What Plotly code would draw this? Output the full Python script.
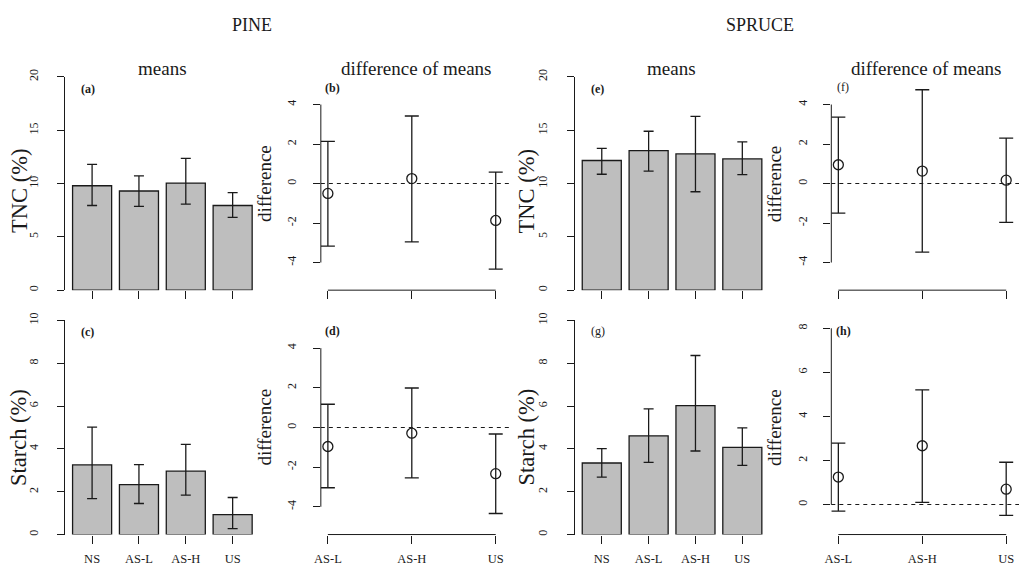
import plotly.graph_objects as go

# ---------------------------------------------------------------- data
categories = ["NS", "AS-L", "AS-H", "US"]
contrasts = ["AS-L", "AS-H", "US"]

# group means with lower / upper interval bounds (%)
pine_tnc_mean = [9.79, 9.30, 10.04, 7.94]
pine_tnc_lo = [7.94, 7.85, 8.07, 6.83]
pine_tnc_hi = [11.79, 10.71, 12.35, 9.14]

pine_starch_mean = [3.25, 2.33, 2.96, 0.93]
pine_starch_lo = [1.68, 1.45, 1.84, 0.28]
pine_starch_hi = [5.02, 3.26, 4.21, 1.73]

spruce_tnc_mean = [12.16, 13.08, 12.78, 12.31]
spruce_tnc_lo = [10.87, 11.17, 9.23, 10.84]
spruce_tnc_hi = [13.30, 14.90, 16.30, 13.91]

spruce_starch_mean = [3.34, 4.61, 6.02, 4.07]
spruce_starch_lo = [2.68, 3.37, 3.90, 3.23]
spruce_starch_hi = [4.01, 5.87, 8.36, 4.98]

# differences of each treatment from NS, with interval bounds
pine_tnc_diff = [-0.50, 0.25, -1.87]
pine_tnc_diff_lo = [-3.17, -2.95, -4.33]
pine_tnc_diff_hi = [2.13, 3.42, 0.58]

pine_starch_diff = [-0.96, -0.29, -2.33]
pine_starch_diff_lo = [-3.04, -2.54, -4.34]
pine_starch_diff_hi = [1.17, 1.99, -0.33]

spruce_tnc_diff = [0.95, 0.63, 0.17]
spruce_tnc_diff_lo = [-1.50, -3.47, -1.97]
spruce_tnc_diff_hi = [3.36, 4.75, 2.30]

spruce_starch_diff = [1.25, 2.67, 0.70]
spruce_starch_diff_lo = [-0.30, 0.10, -0.49]
spruce_starch_diff_hi = [2.79, 5.21, 1.92]

tnc_ticks = [0, 5, 10, 15, 20]
starch_ticks = [0, 2, 4, 6, 8, 10]
diff_ticks = [-4, -2, 0, 2, 4]
diff_ticks_h = [0, 2, 4, 6, 8]

# ---------------------------------------------------------------- layout helpers
W, H = 1019, 569
FONT = "Liberation Serif"
INK = "#1a1a1a"


def fx(p):
    return p / W


def fy(p):
    return 1 - p / H


TOP_ROW = (286.7, 70.0)
BOT_ROW = (535.0, 317.4)
BAR_RANGE = [-0.57, 3.57]          # barplot region incl. 4% padding
DIFF_LEFT = 0.916                   # xlim c(1, 3.1) incl. 4% padding
DIFF_UNIT = 84.5                    # px per contrast step

fig = go.Figure()
layout = {}
shapes = []
annotations = []


def ids(n):
    return ("x" if n == 1 else f"x{n}", "y" if n == 1 else f"y{n}")


def yaxis_style(dom, rng, ticks, show_line, standoff):
    return dict(
        domain=[fy(dom[0]), fy(dom[1])], range=rng,
        tickmode="array", tickvals=ticks, ticktext=[str(t) for t in ticks],
        tickangle=-90, ticks="outside", ticklen=7, tickwidth=1, tickcolor=INK,
        ticklabelstandoff=standoff,
        tickfont=dict(family=FONT, size=12, color=INK),
        showline=show_line, linecolor=INK, linewidth=1,
        showgrid=False, zeroline=False, fixedrange=True,
    )


def bar_panel(n, xpx, ypx, mean, lo, hi, yrange, yticks, show_x):
    xa, ya = ids(n)
    fig.add_trace(go.Bar(
        x=categories, y=mean, xaxis=xa, yaxis=ya,
        marker=dict(color="#bebebe", line=dict(color=INK, width=1.3)),
        error_y=dict(type="data", symmetric=False,
                     array=[h - m for m, h in zip(mean, hi)],
                     arrayminus=[m - l for m, l in zip(mean, lo)],
                     color=INK, thickness=1.3, width=5),
        hoverinfo="skip",
    ))
    layout["xaxis" if n == 1 else f"xaxis{n}"] = dict(
        domain=[fx(xpx[0]), fx(xpx[1])], range=BAR_RANGE, type="category",
        anchor=ya, ticks="outside", ticklen=8, tickwidth=1, tickcolor=INK,
        showticklabels=show_x, ticklabelstandoff=4,
        tickfont=dict(family=FONT, size=12.5, color=INK),
        showline=False, showgrid=False, zeroline=False, fixedrange=True,
    )
    ys = yaxis_style(ypx, yrange, yticks, True, 15)
    ys["anchor"] = xa
    layout["yaxis" if n == 1 else f"yaxis{n}"] = ys


def diff_panel(n, xpx, ypx, diff, lo, hi, yrange, yticks, show_x):
    xa, ya = ids(n)
    xs = [i + 1 for i in range(len(contrasts))]
    fig.add_trace(go.Scatter(
        x=xs, y=diff, xaxis=xa, yaxis=ya, mode="markers", cliponaxis=False,
        marker=dict(symbol="circle-open", size=10, color=INK,
                    line=dict(color=INK, width=1.3)),
        error_y=dict(type="data", symmetric=False,
                     array=[h - d for d, h in zip(diff, hi)],
                     arrayminus=[d - l for d, l in zip(diff, lo)],
                     color=INK, thickness=1.3, width=7),
        hoverinfo="skip",
    ))
    xmax = DIFF_LEFT + (xpx[1] - xpx[0]) / DIFF_UNIT
    layout["xaxis" if n == 1 else f"xaxis{n}"] = dict(
        domain=[fx(xpx[0]), fx(xpx[1])], range=[DIFF_LEFT, xmax],
        anchor=ya, tickmode="array", tickvals=xs, ticktext=contrasts,
        ticks="outside", ticklen=8, tickwidth=1, tickcolor=INK,
        showticklabels=show_x, ticklabelstandoff=4,
        tickfont=dict(family=FONT, size=12.5, color=INK),
        showline=False, showgrid=False, zeroline=False, fixedrange=True,
    )
    ys = yaxis_style(ypx, yrange, yticks, False, 12)
    ys["anchor"] = xa
    layout["yaxis" if n == 1 else f"yaxis{n}"] = ys
    # R-style axis lines spanning only the tick range
    shapes.append(dict(type="line", xref=f"{xa} domain", yref=ya,
                       x0=0, x1=0, y0=yticks[0], y1=yticks[-1],
                       line=dict(color=INK, width=1)))
    shapes.append(dict(type="line", xref=xa, yref=f"{ya} domain",
                       x0=xs[0], x1=xs[-1], y0=0, y1=0,
                       line=dict(color=INK, width=1)))
    # reference line at zero difference
    shapes.append(dict(type="line", xref=f"{xa} domain", yref=ya,
                       x0=0, x1=1, y0=0, y1=0,
                       line=dict(color=INK, width=1.1, dash="4px,4px")))


COL_A = (58.8, 254.1)
COL_B = (316.0, 507.6)
COL_E = (572.0, 767.3)
COL_F = (830.0, 1019.0)

bar_panel(1, COL_A, TOP_ROW, pine_tnc_mean, pine_tnc_lo, pine_tnc_hi, [0, 20], tnc_ticks, False)
diff_panel(2, COL_B, TOP_ROW, pine_tnc_diff, pine_tnc_diff_lo, pine_tnc_diff_hi, [-5.4, 5.4], diff_ticks, False)
bar_panel(3, COL_E, TOP_ROW, spruce_tnc_mean, spruce_tnc_lo, spruce_tnc_hi, [0, 20], tnc_ticks, False)
diff_panel(4, COL_F, TOP_ROW, spruce_tnc_diff, spruce_tnc_diff_lo, spruce_tnc_diff_hi, [-5.4, 5.4], diff_ticks, False)
bar_panel(5, COL_A, BOT_ROW, pine_starch_mean, pine_starch_lo, pine_starch_hi, [0, 10], starch_ticks, True)
diff_panel(6, COL_B, BOT_ROW, pine_starch_diff, pine_starch_diff_lo, pine_starch_diff_hi, [-5.4, 5.4], diff_ticks, True)
bar_panel(7, COL_E, BOT_ROW, spruce_starch_mean, spruce_starch_lo, spruce_starch_hi, [0, 10], starch_ticks, True)
diff_panel(8, COL_F, BOT_ROW, spruce_starch_diff, spruce_starch_diff_lo, spruce_starch_diff_hi, [-1.36, 8.36], diff_ticks_h, True)


# ---------------------------------------------------------------- text
def text(x, y, s, size, angle=0, bold=False):
    annotations.append(dict(
        xref="paper", yref="paper", x=fx(x), y=fy(y), text=f"<b>{s}</b>" if bold else s,
        showarrow=False, xanchor="center", yanchor="middle", textangle=angle,
        font=dict(family=FONT, size=size, color=INK),
    ))


text(247, 17, "PINE", 18)
text(758, 17, "SPRUCE", 18)

for cx in (156.5, 669.5):
    text(cx, 61, "means", 19)
for cx in (412.5, 925.5):
    text(cx, 61, "difference of means", 19)

text(12, 186, "TNC (%)", 22.5, angle=-90)
text(523, 186, "TNC (%)", 22.5, angle=-90)
text(11, 436, "Starch (%)", 22.5, angle=-90)
text(523, 436, "Starch (%)", 22.5, angle=-90)
for cx in (259, 773):
    text(cx, 178.5, "difference", 19, angle=-90)
    text(cx, 426, "difference", 19, angle=-90)

text(82, 82, "(a)", 12, bold=True)
text(328, 81, "(b)", 12, bold=True)
text(81, 329, "(c)", 12, bold=True)
text(328, 328, "(d)", 12, bold=True)
text(595, 82, "(e)", 12, bold=True)
text(842, 80, "(f)", 12)
text(595, 328, "(g)", 12)
text(842, 328, "(h)", 12, bold=True)

fig.update_layout(
    width=W, height=H, margin=dict(l=0, r=0, t=0, b=0),
    paper_bgcolor="white", plot_bgcolor="white",
    showlegend=False, bargap=1 / 6,
    font=dict(family=FONT, color=INK),
    shapes=shapes, annotations=annotations,
    **layout,
)

fig.write_html("out.html")
